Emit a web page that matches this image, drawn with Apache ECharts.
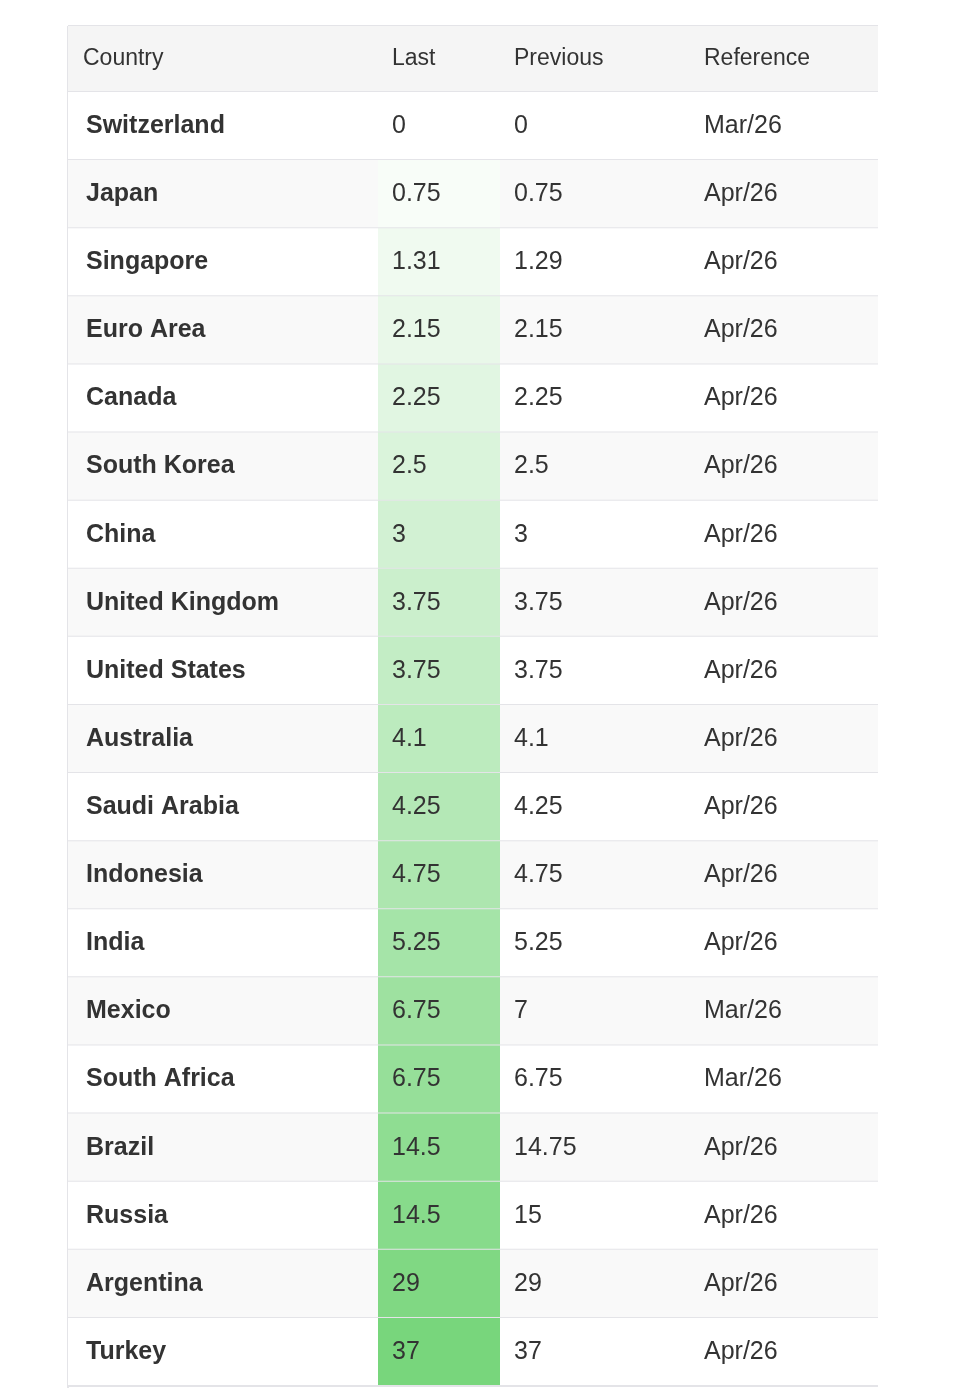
<!DOCTYPE html>
<html>
<head>
<meta charset="utf-8">
<script src="https://cdn.jsdelivr.net/npm/echarts@6/dist/echarts.min.js"></script>
<style>
  html, body { margin: 0; padding: 0; background: #fff; }
  #chart { width: 966px; height: 1398px; }
</style>
</head>
<body>
<div id="chart"></div>
<script>
var headers = ['Country', 'Last', 'Previous', 'Reference'];
var countries = ['Switzerland', 'Japan', 'Singapore', 'Euro Area', 'Canada', 'South Korea', 'China',
  'United Kingdom', 'United States', 'Australia', 'Saudi Arabia', 'Indonesia', 'India', 'Mexico',
  'South Africa', 'Brazil', 'Russia', 'Argentina', 'Turkey'];
var last = ['0', '0.75', '1.31', '2.15', '2.25', '2.5', '3', '3.75', '3.75', '4.1', '4.25', '4.75',
  '5.25', '6.75', '6.75', '14.5', '14.5', '29', '37'];
var previous = ['0', '0.75', '1.29', '2.15', '2.25', '2.5', '3', '3.75', '3.75', '4.1', '4.25', '4.75',
  '5.25', '7', '6.75', '14.75', '15', '29', '37'];
var reference = ['Mar/26', 'Apr/26', 'Apr/26', 'Apr/26', 'Apr/26', 'Apr/26', 'Apr/26', 'Apr/26',
  'Apr/26', 'Apr/26', 'Apr/26', 'Apr/26', 'Apr/26', 'Mar/26', 'Mar/26', 'Apr/26', 'Apr/26',
  'Apr/26', 'Apr/26'];

// layout in axis units (pixels of the table)
var colEdges = [0, 310, 432, 622, 810];
var headerH = 66, rowH = 68.1;
var columns = [countries, last, previous, reference];

var cells = [];
cells.push.apply(cells, headers.map(function (h, c) { return [c, -1]; }));
countries.forEach(function (_, r) {
  for (var c = 0; c < 4; c++) cells.push([c, r]);
});

function cellText(c, r) { return r < 0 ? headers[c] : columns[c][r]; }

var chart = echarts.init(document.getElementById('chart'));
chart.setOption({
  animation: false,
  grid: { left: 68, right: 88, top: 26, bottom: 12 },
  xAxis: { type: 'value', min: 0, max: 810, show: false },
  yAxis: { type: 'value', min: 0, max: headerH + rowH * countries.length, inverse: true, show: false },
  series: [{
    type: 'custom',
    data: cells,
    renderItem: function (params, api) {
      var c = api.value(0), r = api.value(1);
      var y0 = r < 0 ? 0 : headerH + r * rowH;
      var y1 = r < 0 ? headerH : y0 + rowH;
      var p0 = api.coord([colEdges[c], y0]);
      var p1 = api.coord([colEdges[c + 1], y1]);
      var fill = r < 0 ? '#f5f5f5' : (r % 2 ? '#f9f9f9' : '#ffffff');
      if (c === 1 && r > 0) {
        fill = echarts.color.lerp(r / (countries.length - 1), ['#ffffff', '#78d67c']);
      }
      return {
        type: 'group',
        children: [{
          type: 'rect',
          shape: { x: p0[0], y: p0[1], width: p1[0] - p0[0], height: p1[1] - p0[1] },
          style: { fill: fill }
        }, {
          type: 'line',
          shape: { x1: p0[0], y1: p1[1], x2: p1[0], y2: p1[1] },
          style: { stroke: '#e4e4e8', lineWidth: 2 }
        }, {
          type: 'text',
          x: p0[0] + (c === 0 ? (r < 0 ? 15 : 18) : 14),
          y: (p0[1] + p1[1]) / 2,
          style: {
            text: cellText(c, r),
            fill: '#333',
            font: (c === 0 && r >= 0 ? 'bold ' : '') + (r < 0 ? '23px' : '25px') + ' "Liberation Sans", Arial, sans-serif',
            verticalAlign: 'middle',
            align: 'left'
          }
        }]
      };
    }
  }],
  graphic: [{
    type: 'line',
    shape: { x1: 68, y1: 26, x2: 68, y2: 1388 },
    style: { stroke: '#e4e4e8', lineWidth: 2 }
  }, {
    type: 'line',
    shape: { x1: 68, y1: 26, x2: 878, y2: 26 },
    style: { stroke: '#e4e4e8', lineWidth: 2 }
  }]
});
</script>
</body>
</html>
